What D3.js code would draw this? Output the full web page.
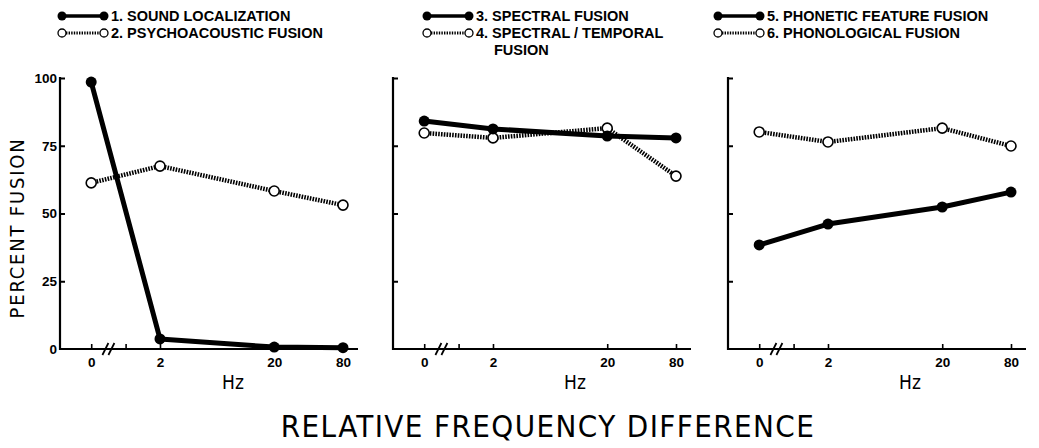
<!DOCTYPE html>
<html lang="en">
<head>
    <meta charset="UTF-8">
    <title>Percent Fusion vs Relative Frequency Difference</title>
    <script src="https://d3js.org/d3.v7.min.js"></script>
    <style>
        body {
            margin: 0;
            padding: 0;
            background: #fff;
            overflow: hidden;
        }
        .legend-text {
            font-family: "Liberation Sans", Arial, sans-serif;
            font-weight: bold;
            font-size: 14.5px;
        }
        .tick text {
            font-family: "Liberation Sans", Arial, sans-serif;
            font-weight: bold;
            font-size: 13.5px;
            fill: #000;
        }
        .axis-title {
            font-family: "Liberation Sans Narrow", "DejaVu Sans Condensed", sans-serif;
        }
    </style>
</head>
<body>
    <svg id="chart" width="1039" height="448"></svg>

    <script>
        // x categories (Hz); 0 sits left of the axis break
        const hz = [0, 2, 20, 80];
        const yTicks = [0, 25, 50, 75, 100];

        // percent fusion
        const soundLocalization = [98.5, 3.7, 0.7, 0.5];
        const psychoacousticFusion = [61.3, 67.5, 58.3, 53.1];
        const spectralFusion = [84.1, 81.2, 78.6, 77.9];
        const spectralTemporalFusion = [79.7, 77.9, 81.5, 63.8];
        const phoneticFeatureFusion = [38.4, 46.1, 52.4, 57.9];
        const phonologicalFusion = [80.1, 76.4, 81.5, 74.9];

        const panels = [
            { left: 60, legendX: 62, hzX: 173,
              solid: { name: "1. SOUND LOCALIZATION", values: soundLocalization },
              dotted: { name: ["2. PSYCHOACOUSTIC FUSION"], values: psychoacousticFusion } },
            { left: 393, legendX: 427, hzX: 182,
              solid: { name: "3. SPECTRAL FUSION", values: spectralFusion },
              dotted: { name: ["4. SPECTRAL / TEMPORAL", "FUSION"], values: spectralTemporalFusion } },
            { left: 728, legendX: 718, hzX: 182,
              solid: { name: "5. PHONETIC FEATURE FUSION", values: phoneticFeatureFusion },
              dotted: { name: ["6. PHONOLOGICAL FUSION"], values: phonologicalFusion } }
        ];

        const svg = d3.select("#chart");
        const axisLen = 298;

        // log-scaled Hz axis; the "0" point is drawn one octave below 1 Hz
        const zeroAt = 0.5;
        const x = d3.scaleLog().domain([1, 80]).range([65.6, 283]);
        const xPos = d => x(d === 0 ? zeroAt : d);

        const y = d3.scaleLinear().domain([0, 100]).range([349, 78]);

        panels.forEach((p, i) => {
            const g = svg.append("g").attr("transform", `translate(${p.left},0)`);

            // y axis
            const yAxis = g.append("g")
                .call(d3.axisLeft(y).tickValues(yTicks).tickSize(-5).tickSizeOuter(0).tickPadding(3)
                    .tickFormat(d => i === 0 ? d : ""));
            yAxis.select(".domain").remove();
            yAxis.selectAll(".tick line").attr("stroke", "#000").attr("stroke-width", 2)
                .filter(d => d === 0).remove();
            g.append("line")
                .attr("x1", 0).attr("x2", 0)
                .attr("y1", y(100) - 1).attr("y2", y(0) + 1)
                .attr("stroke", "#000").attr("stroke-width", 2.2);

            // x axis
            const xAxis = g.append("g")
                .attr("transform", `translate(0,${y(0)})`)
                .call(d3.axisBottom(x).tickValues([zeroAt, 1, 2, 20, 80]).tickSize(-5).tickSizeOuter(0).tickPadding(8)
                    .tickFormat(d => d === zeroAt ? "0" : d === 1 ? "" : d));
            xAxis.select(".domain").remove();
            xAxis.selectAll(".tick line").attr("stroke", "#000").attr("stroke-width", 1.6);
            g.append("line")
                .attr("x1", 0).attr("x2", axisLen)
                .attr("y1", y(0)).attr("y2", y(0))
                .attr("stroke", "#000").attr("stroke-width", 2.2);

            // axis break marks
            const bx = x(Math.sqrt(zeroAt));
            [-3, 3].forEach(off => {
                g.append("line")
                    .attr("x1", bx + off - 3).attr("y1", y(0) + 6)
                    .attr("x2", bx + off + 3).attr("y2", y(0) - 6)
                    .attr("stroke", "#000").attr("stroke-width", 1.8);
            });

            // Hz label
            g.append("text")
                .attr("class", "axis-title")
                .attr("x", p.hzX).attr("y", 389)
                .attr("text-anchor", "middle")
                .attr("font-size", 19)
                .text("Hz");

            const line = d3.line().x((d, j) => xPos(hz[j])).y(d => y(d));

            // dotted series (open circles)
            g.append("path")
                .datum(p.dotted.values)
                .attr("d", line)
                .attr("fill", "none")
                .attr("stroke", "#000")
                .attr("stroke-width", 4.5)
                .attr("stroke-dasharray", "1.6,1.2");
            g.selectAll(".open-pt")
                .data(p.dotted.values)
                .enter().append("circle")
                .attr("cx", (d, j) => xPos(hz[j]))
                .attr("cy", d => y(d))
                .attr("r", 5)
                .attr("fill", "#fff")
                .attr("stroke", "#000")
                .attr("stroke-width", 1.6);

            // solid series (filled circles)
            g.append("path")
                .datum(p.solid.values)
                .attr("d", line)
                .attr("fill", "none")
                .attr("stroke", "#000")
                .attr("stroke-width", 5)
                .attr("stroke-linejoin", "round");
            g.selectAll(".filled-pt")
                .data(p.solid.values)
                .enter().append("circle")
                .attr("cx", (d, j) => xPos(hz[j]))
                .attr("cy", d => y(d))
                .attr("r", 5.5)
                .attr("fill", "#000");

            // legend
            const lx = p.legendX - p.left;
            const lg = g.append("g");
            lg.append("line")
                .attr("x1", lx).attr("x2", lx + 42).attr("y1", 16).attr("y2", 16)
                .attr("stroke", "#000").attr("stroke-width", 3.5);
            [lx, lx + 42].forEach(cx => lg.append("circle")
                .attr("cx", cx).attr("cy", 16).attr("r", 4.5).attr("fill", "#000"));
            lg.append("text")
                .attr("class", "legend-text")
                .attr("x", lx + 49).attr("y", 21)
                .text(p.solid.name);

            lg.append("line")
                .attr("x1", lx + 4).attr("x2", lx + 38).attr("y1", 33).attr("y2", 33)
                .attr("stroke", "#000").attr("stroke-width", 3)
                .attr("stroke-dasharray", "1.4,1.2");
            [lx, lx + 42].forEach(cx => lg.append("circle")
                .attr("cx", cx).attr("cy", 33).attr("r", 4)
                .attr("fill", "#fff").attr("stroke", "#000").attr("stroke-width", 1.3));
            p.dotted.name.forEach((t, k) => {
                lg.append("text")
                    .attr("class", "legend-text")
                    .attr("x", lx + 49 + (k > 0 ? 18 : 0)).attr("y", 38 + k * 17)
                    .text(t);
            });
        });

        // y axis title
        svg.append("text")
            .attr("class", "axis-title")
            .attr("transform", "translate(24,228) rotate(-90)")
            .attr("text-anchor", "middle")
            .attr("font-size", 20)
            .attr("letter-spacing", 1.8)
            .text("PERCENT FUSION");

        // overall x axis title
        svg.append("text")
            .attr("class", "axis-title")
            .attr("x", 548).attr("y", 437)
            .attr("text-anchor", "middle")
            .attr("font-size", 31)
            .attr("letter-spacing", 1.4)
            .text("RELATIVE FREQUENCY DIFFERENCE");
    </script>
</body>
</html>
